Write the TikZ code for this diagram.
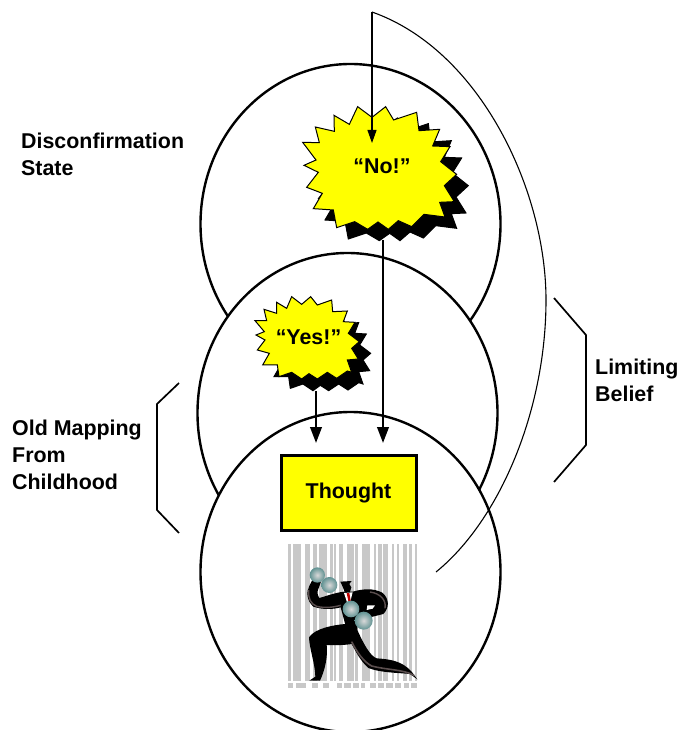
\documentclass[tikz,border=0pt]{standalone}
\usepackage{fontspec}
\setmainfont{Liberation Sans}
\usetikzlibrary{arrows.meta,shapes.geometric}
\definecolor{burstcol}{HTML}{FFFF00}
\definecolor{barg}{HTML}{C8C8C8}
\definecolor{limb}{HTML}{5A4E4E}
\tikzset{
  circ/.style={shape=ellipse,draw=black,fill=white,line width=2.4pt,minimum width=300pt,minimum height=320pt,inner sep=0pt},
  sidetext/.style={font=\fontsize{21.4}{27}\selectfont\bfseries,align=left,anchor=north west,inner sep=0pt},
  bursttext/.style={font=\fontsize{21.4}{27}\selectfont\bfseries,inner sep=0pt},
  burstshape/.style={draw=black,fill=burstcol,line width=1pt,line join=miter},
  burstshadow/.style={fill=black,draw=black,line width=1pt},
  conn/.style={draw=black,line width=2.4pt,-{Triangle[length=16pt,width=11.5pt]}},
  thinconn/.style={draw=black,line width=1.1pt,-{Triangle[length=13pt,width=9pt]}},
  thinline/.style={draw=black,line width=1.1pt},
  bracket/.style={draw=black,line width=1.7pt,line join=miter},
  thoughtbox/.style={draw=black,fill=burstcol,line width=3pt,minimum width=135pt,minimum height=75pt,inner sep=0pt,
     font=\fontsize{21.4}{27}\selectfont\bfseries},
  barstyle/.style={fill=barg,draw=none},
  ballstyle/.style={inner color=barg!70!white,outer color=teal!45!gray!85!white,draw=none},
}
\newcommand{\NoPts}{(203,50) -- (178,103) -- (132,76) -- (133,124) -- (76,111) -- (88,158) -- (38,157) -- (78,210) -- (42,226) -- (85,247) -- (50,292) -- (97,310) -- (70,356) -- (130,360) -- (140,413) -- (194,395) -- (233,418) -- (264,396) -- (295,418) -- (325,392) -- (365,410) -- (402,373) -- (465,381) -- (449,337) -- (493,335) -- (463,287) -- (500,253) -- (452,215) -- (480,170) -- (428,168) -- (449,118) -- (387,122) -- (380,67) -- (311,90) -- (287,50) -- (246,82) -- cycle}
\newcommand{\YesPts}{(155,35) -- (140,70) -- (110,52) -- (110,85) -- (72,73) -- (80,107) -- (45,107) -- (73,140) -- (48,150) -- (75,165) -- (52,195) -- (88,205) -- (68,240) -- (112,240) -- (117,275) -- (155,262) -- (185,282) -- (207,266) -- (232,282) -- (262,262) -- (290,280) -- (322,258) -- (335,262) -- (322,225) -- (355,222) -- (335,190) -- (358,170) -- (325,145) -- (345,112) -- (310,110) -- (322,78) -- (278,80) -- (275,45) -- (232,60) -- (212,35) -- (185,58) -- cycle}
\begin{document}
\begin{tikzpicture}[x=1pt,y=-1pt]
\useasboundingbox (0,0) rectangle (679,730);
% circles, each covering the one above it
\node[circ] (topc) at (350.5,224) {};
\node[circ] (midc) at (347.5,413) {};
\node[circ] (botc) at (350.5,572) {};
% No burst
\begin{scope}[shift={(290,90)},x=.3333pt,y=-.3333pt]
  \path[burstshadow,shift={(35,34)}] \NoPts;
  \path[burstshape] \NoPts;
\end{scope}
% Yes burst
\begin{scope}[shift={(240,285)},x=.3333pt,y=-.3333pt]
  \path[burstshadow,shift={(34,35)}] \YesPts;
  \path[burstshape] \YesPts;
\end{scope}
\node[bursttext] (no) at (382,166) {“No!”};
\node[bursttext] (yes) at (308.5,337) {“Yes!”};
\node[thoughtbox] (thought) at (348.5,493) {Thought};
% man
\begin{scope}[shift={(270,530)},x=.3333pt,y=-.3333pt]
  \foreach \a/\b in {54/63,70/93,105/120,128/142,147/170,180/188,192/199,207/219,231/252,254/264,276/300,311/318,325/335,340/354,366/373,380/387,399/412,418/425,434/442}
    \fill[barstyle] (\a,42) rectangle (\b,453);
  \foreach \a/\b in {54/70,78/108,126/144,160/177,201/217,222/243,249/267,272/285,301/317,323/343,349/370,375/394,402/417,423/441}
    \fill[barstyle] (\a,458) rectangle (\b,473);
  % figure
  \fill[black] (118,168) .. controls (108,185) and (110,212) .. (130,230) .. controls (160,240) and (190,238) .. (212,232) -- (226,284) -- (262,290) -- (300,262) -- (340,252) .. controls (360,232) and (357,205) .. (337,188) .. controls (310,174) and (280,176) .. (248,185) -- (222,185) .. controls (195,188) and (170,198) .. (148,204) .. controls (142,195) and (140,185) .. (147,172) -- (155,148) -- (128,148) -- cycle;
  \fill[black] (211,155) -- (245,153) -- (238,162) -- (244,172) -- (240,186) -- (224,186) -- (218,170) -- cycle;
  \fill[white] (222,189) -- (248,187) -- (240,218) -- (232,220) -- cycle;
  \fill[red!75!black] (230,189) -- (238,189) -- (242,212) -- (236,218) -- cycle;
  \fill[white] (292,226) -- (315,226) -- (308,236) -- (290,240) -- cycle;
  \fill[black] (226,282) -- (262,280) -- (262,300) .. controls (280,340) and (300,378) .. (320,385) .. controls (360,388) and (395,392) .. (425,425) -- (442,448) -- (420,432) .. controls (380,428) and (330,428) .. (295,414) .. controls (270,392) and (255,360) .. (245,342) .. controls (220,346) and (190,346) .. (170,345) .. controls (174,380) and (165,420) .. (150,452) -- (118,452) -- (136,440) .. controls (135,400) and (118,355) .. (117,322) .. controls (135,295) and (190,285) .. (226,282) -- cycle;
  \draw[limb,line width=1.6pt] (245,335) .. controls (260,365) and (280,395) .. (305,408) .. controls (350,420) and (400,418) .. (432,436);
  \draw[limb,line width=1.4pt] (116,180) .. controls (114,205) and (122,222) .. (140,229) .. controls (165,235) and (190,232) .. (212,226);
  \draw[limb,line width=1.4pt] (300,186) .. controls (330,190) and (350,210) .. (345,235);
  \shade[ballstyle] (142,135) circle (23);
  \shade[ballstyle] (178,165) circle (24);
  \shade[ballstyle] (243,237) circle (25);
  \shade[ballstyle] (281,272) circle (27);
\end{scope}
% named connector ends
\coordinate (topstart) at (372,12);
\coordinate (curveend) at (436,572);
\coordinate (noout) at (383,240);
\coordinate (yesout) at (316,391);
% connectors
\draw[conn] (noout) -- (383,443);
\draw[conn] (yesout) -- (316,443);
\draw[thinconn] (topstart) -- (372,143);
\draw[thinline] (topstart) .. controls (480,50) and (546,190) .. (546,300) .. controls (546,410) and (500,520) .. (curveend);
% brackets
\draw[bracket] (179,383) -- (157,404) -- (157,510) -- (179,533);
\draw[bracket] (554,298) -- (586,335) -- (586,445) -- (554,482);
% labels
\node[sidetext] (l1) at (21,133) {Disconfirmation\\State};
\node[sidetext] (l2) at (12,420) {Old Mapping\\From\\Childhood};
\node[sidetext] (l3) at (595,359) {Limiting\\Belief};
\end{tikzpicture}
\end{document}
